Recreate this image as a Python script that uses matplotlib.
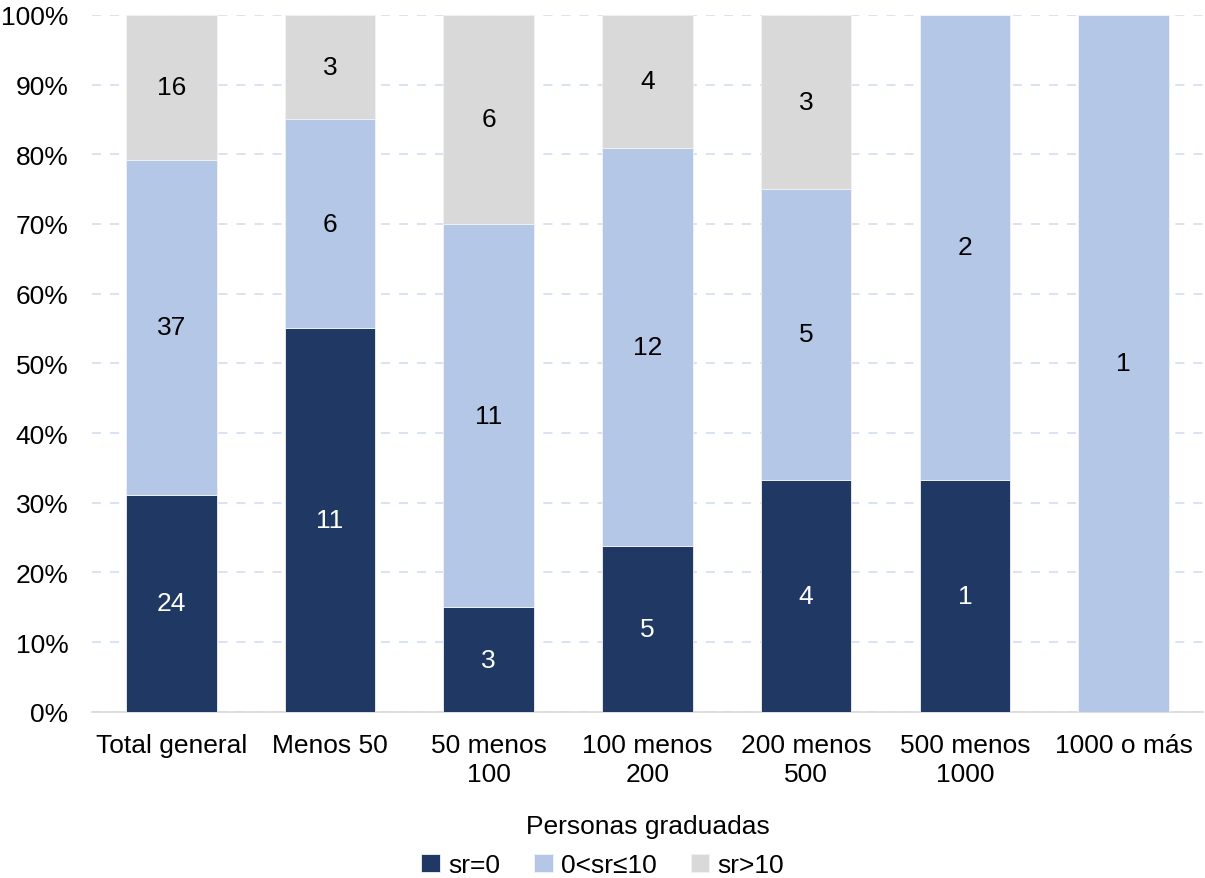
import matplotlib

matplotlib.use("Agg")
import matplotlib.pyplot as plt
import numpy as np

plt.rcParams["font.family"] = ["Liberation Sans", "DejaVu Sans"]

categories = ["Total general", "Menos 50", "50 menos\n100", "100 menos\n200",
              "200 menos\n500", "500 menos\n1000", "1000 o más"]
sr_cero = [24, 11, 3, 5, 4, 1, 0]
sr_bajo = [37, 6, 11, 12, 5, 2, 1]
sr_alto = [16, 3, 6, 4, 3, 0, 0]
series_names = ["sr=0", "0<sr≤10", "sr>10"]
colors = ["#203864", "#B4C7E7", "#D9D9D9"]
text_colors = ["white", "black", "black"]

counts = np.array([sr_cero, sr_bajo, sr_alto], dtype=float)
totals = counts.sum(axis=0)
shares = counts / totals * 100

FS = 19

fig = plt.figure(figsize=(12.05, 8.79), dpi=100)
ax = fig.add_axes([0.0763, 0.189, 0.922, 0.793])

x = np.arange(len(categories))
bottom = np.zeros(len(categories))
for i, name in enumerate(series_names):
    ax.bar(x, shares[i], 0.57, bottom=bottom, color=colors[i], label=name,
           edgecolor="#F2F2F2", linewidth=0.6, zorder=3)
    for j in range(len(categories)):
        if counts[i, j] > 0:
            ax.text(x[j], bottom[j] + shares[i, j] / 2, f"{int(counts[i, j])}",
                    ha="center", va="center", fontsize=FS, color=text_colors[i], zorder=4)
    bottom += shares[i]

ax.set_xlim(-0.5, len(categories) - 0.5)
ax.set_ylim(0, 100)
ax.set_yticks(np.arange(0, 101, 10))
ax.set_yticklabels([f"{v}%" for v in range(0, 101, 10)], fontsize=FS)
ax.set_xticks(x)
ax.set_xticklabels(categories, fontsize=FS, linespacing=1.3)
ax.tick_params(axis="x", length=0, pad=15)
ax.tick_params(axis="y", length=0, pad=17)
ax.yaxis.grid(True, color="#D6E0F2", linestyle=(0, (5, 5)), linewidth=1.3, zorder=0)
ax.set_axisbelow(True)
for side in ["top", "right", "left"]:
    ax.spines[side].set_visible(False)
ax.spines["bottom"].set_color("#D9D9D9")
ax.spines["bottom"].set_linewidth(1.2)

ax.set_xlabel("Personas graduadas", fontsize=FS, labelpad=20)
fig.legend(loc="lower center", bbox_to_anchor=(0.5, -0.026), ncol=3, frameon=False,
           fontsize=FS, handlelength=0.7, handleheight=0.7, handletextpad=0.3,
           columnspacing=1.3)

fig.savefig("out.png", dpi=100)
